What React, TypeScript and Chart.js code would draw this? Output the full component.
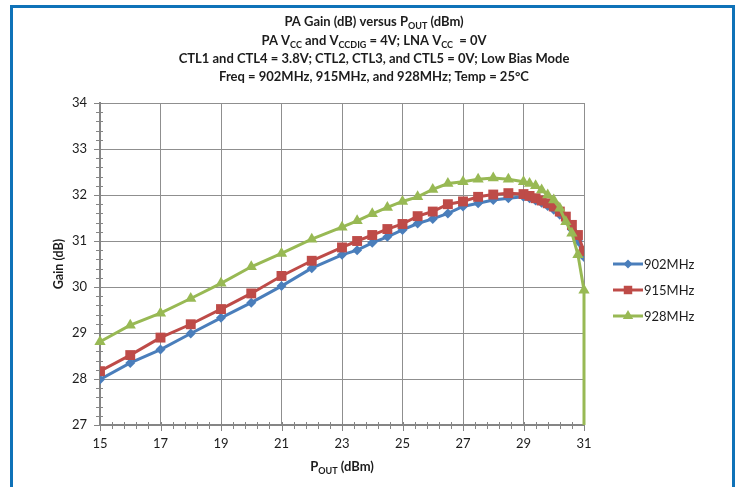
import React, { useEffect, useRef } from "react";
import { Chart, registerables } from "chart.js";

Chart.register(...registerables);

// P_OUT (dBm) sample points shared by the three frequencies
const pout = [
  15, 16, 17, 18, 19, 20, 21, 22, 23, 23.5, 24, 24.5, 25, 25.5, 26, 26.5, 27, 27.5, 28, 28.5, 29,
  29.2, 29.4, 29.6, 29.8, 30, 30.2, 30.4, 30.6, 30.8, 31,
];
const gain902 = [
  27.99, 28.35, 28.64, 28.99, 29.33, 29.66, 30.02, 30.41, 30.7, 30.8, 30.96, 31.09, 31.24, 31.38,
  31.48, 31.6, 31.75, 31.82, 31.89, 31.93, 31.96, 31.93, 31.88, 31.83, 31.76, 31.68, 31.57, 31.45,
  31.25, 31.0, 30.65,
];
const gain915 = [
  28.17, 28.52, 28.9, 29.19, 29.52, 29.86, 30.24, 30.57, 30.86, 31.0, 31.13, 31.26, 31.37, 31.54,
  31.64, 31.8, 31.86, 31.96, 32.01, 32.04, 32.02, 31.98, 31.93, 31.88, 31.82, 31.75, 31.64, 31.53,
  31.35, 31.13, 30.78,
];
// 928MHz has one extra final point (collapse below the axis at 31 dBm)
const pout928 = [...pout, 31];
const gain928 = [
  28.81, 29.17, 29.43, 29.75, 30.08, 30.44, 30.73, 31.04, 31.3, 31.44, 31.59, 31.73, 31.86, 31.96,
  32.12, 32.25, 32.29, 32.34, 32.37, 32.34, 32.29, 32.25, 32.2, 32.11, 32.0, 31.89, 31.71, 31.42,
  31.17, 30.7, 29.93, 25,
];

const seriesNames = ["902MHz", "915MHz", "928MHz"];
const seriesColors = ["#4A7EBB", "#BE4B48", "#98B954"];
const seriesShapes = ["rectRot", "rect", "triangle"];

const xMin = 15;
const xMax = 31;
const xStep = 2;
const yMin = 27;
const yMax = 34;
const yStep = 1;

type Seg = [string, boolean];
const titleLines: Seg[][] = [
  [["PA Gain (dB) versus P", false], ["OUT", true], [" (dBm)", false]],
  [["PA V", false], ["CC", true], [" and V", false], ["CCDIG", true], [" = 4V; LNA V", false], ["CC", true], ["  = 0V", false]],
  [["CTL1 and CTL4 = 3.8V; CTL2, CTL3, and CTL5 = 0V; Low Bias Mode", false]],
  [["Freq = 902MHz, 915MHz, and 928MHz; Temp = 25°C", false]],
];
const xTitle: Seg[] = [["P", false], ["OUT", true], [" (dBm)", false]];
const yTitle = "Gain (dB)";

const FONT = "Lato, 'Liberation Sans', sans-serif";
const TEXT = "#1c1c1c";
const AXIS = "#858585";
const GRID = "#8f8f8f";

function drawRich(ctx: CanvasRenderingContext2D, segs: Seg[], cx: number, cy: number, size: number, bold: boolean) {
  const sub = Math.round(size * 0.68);
  const f = (s: number) => `${bold ? "bold " : ""}${s}px ${FONT}`;
  let total = 0;
  for (const [t, isSub] of segs) {
    ctx.font = f(isSub ? sub : size);
    total += ctx.measureText(t).width;
  }
  let x = cx - total / 2;
  ctx.textAlign = "left";
  ctx.textBaseline = "middle";
  for (const [t, isSub] of segs) {
    ctx.font = f(isSub ? sub : size);
    ctx.fillText(t, x, isSub ? cy + size * 0.3 : cy);
    x += ctx.measureText(t).width;
  }
}

function drawMarker(ctx: CanvasRenderingContext2D, shape: string, x: number, y: number, r: number) {
  ctx.beginPath();
  if (shape === "rectRot") {
    ctx.moveTo(x, y - r);
    ctx.lineTo(x + r, y);
    ctx.lineTo(x, y + r);
    ctx.lineTo(x - r, y);
  } else if (shape === "rect") {
    const s = r * Math.SQRT1_2;
    ctx.rect(x - s, y - s, 2 * s, 2 * s);
  } else {
    const h = r * 1.5;
    const w = r * Math.sqrt(3);
    ctx.moveTo(x, y - r);
    ctx.lineTo(x + w / 2, y - r + h);
    ctx.lineTo(x - w / 2, y - r + h);
  }
  ctx.closePath();
  ctx.fill();
}

const overlay = {
  id: "overlay",
  beforeDatasetsDraw(chart: any) {
    const ctx: CanvasRenderingContext2D = chart.ctx;
    const xs = chart.scales.x;
    const ys = chart.scales.y;
    const { left, bottom } = chart.chartArea;
    ctx.save();
    ctx.strokeStyle = AXIS;
    ctx.lineWidth = 1;
    for (let i = 0; i <= (yMax - yMin) * 5; i++) {
      const v = yMin + i * 0.2;
      const py = Math.round(ys.getPixelForValue(v)) + 0.5;
      const major = i % 5 === 0;
      ctx.beginPath();
      ctx.moveTo(left - (major ? 6 : 4), py);
      ctx.lineTo(left + 3, py);
      ctx.stroke();
    }
    for (let i = 0; i <= (xMax - xMin) / 0.4 + 0.01; i++) {
      const v = xMin + i * 0.4;
      const px = Math.round(xs.getPixelForValue(v)) + 0.5;
      const major = i % 5 === 0;
      ctx.beginPath();
      ctx.moveTo(px, bottom - 3);
      ctx.lineTo(px, bottom + (major ? 6 : 4));
      ctx.stroke();
    }
    ctx.restore();
  },
  afterDraw(chart: any) {
    const ctx: CanvasRenderingContext2D = chart.ctx;
    const { left, right, top, bottom } = chart.chartArea;
    ctx.save();
    ctx.fillStyle = TEXT;
    const titleY = [22, 41, 59, 77];
    titleLines.forEach((segs, i) => drawRich(ctx, segs, 374, titleY[i], 13, true));
    drawRich(ctx, xTitle, (left + right) / 2, 467, 13, true);
    ctx.save();
    ctx.translate(59, (top + bottom) / 2);
    ctx.rotate(-Math.PI / 2);
    ctx.font = `bold 12.5px ${FONT}`;
    ctx.textAlign = "center";
    ctx.textBaseline = "middle";
    ctx.fillText(yTitle, 0, 0);
    ctx.restore();
    const legY = [264, 290, 316];
    seriesNames.forEach((name, i) => {
      const y = legY[i];
      ctx.strokeStyle = seriesColors[i];
      ctx.fillStyle = seriesColors[i];
      ctx.lineWidth = 3;
      ctx.beginPath();
      ctx.moveTo(613, y);
      ctx.lineTo(643, y);
      ctx.stroke();
      drawMarker(ctx, seriesShapes[i], 628, y, i === 0 ? 4.5 : 6);
      ctx.fillStyle = TEXT;
      ctx.font = `13px ${FONT}`;
      ctx.textAlign = "left";
      ctx.textBaseline = "middle";
      ctx.fillText(name, 644, y + 0.5);
    });
    ctx.restore();
  },
};

export default function App() {
  const ref = useRef<HTMLCanvasElement | null>(null);

  useEffect(() => {
    if (!ref.current) return;
    const mk = (xs: number[], ys: number[]) => ys.map((y, i) => ({ x: xs[i], y }));
    const radii = [5, 7, 6.5];
    const datasets = [
      { data: mk(pout, gain902), order: 3 },
      { data: mk(pout, gain915), order: 2 },
      { data: mk(pout928, gain928), order: 1, clip: { left: 10, right: 10, top: 10, bottom: 0 } },
    ].map((d, i) => ({
      label: seriesNames[i],
      ...d,
      borderColor: seriesColors[i],
      backgroundColor: seriesColors[i],
      pointBackgroundColor: seriesColors[i],
      pointBorderColor: seriesColors[i],
      pointBorderWidth: 0,
      pointStyle: seriesShapes[i] as any,
      pointRadius: radii[i],
      borderWidth: 3,
      tension: 0,
      fill: false,
    }));

    const tickFont = { family: FONT, size: 13 };
    const chart = new Chart(ref.current, {
      type: "line",
      data: { datasets },
      plugins: [overlay],
      options: {
        animation: false,
        responsive: false,
        devicePixelRatio: 1,
        layout: { padding: { left: 0, top: 103, right: 156, bottom: 0 } },
        plugins: { legend: { display: false }, tooltip: { enabled: false }, title: { display: false } },
        scales: {
          x: {
            type: "linear",
            min: xMin,
            max: xMax,
            ticks: { stepSize: xStep, font: tickFont, color: TEXT, padding: 11, maxRotation: 0 },
            grid: { color: GRID, lineWidth: 1, drawTicks: false },
            border: { color: AXIS, width: 2 },
            afterFit: (s: any) => {
              s.height = 62;
            },
          },
          y: {
            type: "linear",
            min: yMin,
            max: yMax,
            ticks: { stepSize: yStep, font: tickFont, color: TEXT, padding: 13 },
            grid: { color: GRID, lineWidth: 1, drawTicks: false },
            border: { color: AXIS, width: 2 },
            afterFit: (s: any) => {
              s.width = 100;
            },
          },
        },
      },
    });
    return () => chart.destroy();
  }, []);

  return (
    <div style={{ position: "absolute", left: 0, top: 0, width: 740, height: 487, background: "#fff", overflow: "hidden" }}>
      <div
        style={{
          position: "absolute",
          left: 10,
          top: 5,
          width: 719,
          height: 520,
          borderLeft: "3px solid #0F72B8",
          borderTop: "3px solid #0F72B8",
          borderRight: "3px solid #0F72B8",
        }}
      />
      <canvas ref={ref} width={740} height={487} style={{ position: "absolute", left: 0, top: 0, display: "block" }} />
    </div>
  );
}
